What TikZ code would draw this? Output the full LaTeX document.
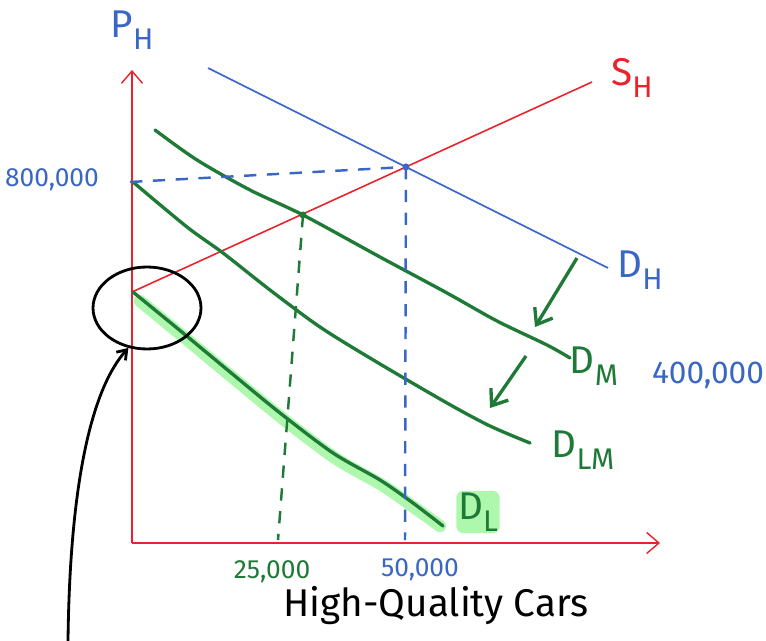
\documentclass[tikz,border=0pt]{standalone}
\usepackage{fontspec}
\setmainfont{Fira Sans}
\usepackage{tikz}
\usetikzlibrary{arrows.meta, positioning, calc, shapes.geometric}
\definecolor{axisred}{HTML}{E8232B}
\definecolor{inkblue}{HTML}{3A66C4}
\definecolor{inkgreen}{HTML}{1E7A36}
\definecolor{hlgreen}{HTML}{8CF58C}
\newcommand{\lowidx}[1]{\raisebox{-0.6ex}{\fontsize{17}{17}\selectfont #1}}

\begin{document}
\begin{tikzpicture}[
  x=0.02cm, y=0.02cm,
  axis/.style={-{Straight Barb[length=7pt,width=12pt]}, line width=0.8pt, axisred},
  schedule/.style={line width=0.9pt},
  dcurve/.style={line width=1.9pt, inkgreen, line cap=round, line join=round},
  guide/.style={line width=1.4pt, dash pattern=on 7pt off 6pt},
  shiftarr/.style={-{Straight Barb[length=8pt,width=12pt]}, line width=1.9pt, inkgreen},
  lbl/.style={font=\fontsize{22}{24}\selectfont, inner sep=1pt},
  num/.style={font=\fontsize{15}{17}\selectfont, inner sep=1pt}
]
\useasboundingbox (0,0) rectangle (766,-641);

\coordinate (o) at (132,-543);
\coordinate (ytop) at (132,-70);
\coordinate (xend) at (660,-543);
\draw[axis] (o) -- (ytop);
\draw[axis] (o) -- (xend);

\coordinate (s0) at (132,-292);
\coordinate (s1) at (592,-82);
\coordinate (dh0) at (208,-68);
\coordinate (dh1) at (608,-268);
\draw[schedule, axisred] (s0) -- (s1);
\draw[schedule, inkblue] (dh0) -- (dh1);

\draw[line width=7pt, hlgreen, opacity=0.7, line cap=round, line join=round]
  plot[smooth] coordinates {(140,-301) (185,-338) (232,-377) (282,-418) (335,-458) (382,-485) (415,-508) (440,-526)};
\draw[dcurve] plot[smooth] coordinates {(155,-130) (197,-160) (250,-190) (303,-215) (380,-257) (447,-293) (497,-321) (547,-345) (570,-358)};
\draw[dcurve] plot[smooth] coordinates {(133,-182) (187,-227) (223,-253) (270,-290) (320,-327) (375,-361) (447,-403) (490,-426) (530,-443)};
\draw[dcurve] plot[smooth] coordinates {(133,-292) (183,-333) (230,-372) (280,-413) (333,-453) (380,-480) (413,-503) (443,-526)};

\coordinate (eqH) at (intersection of s0--s1 and dh0--dh1);
\coordinate (eqM) at (303,-215);
\coordinate (p800) at (130,-182);
\coordinate (q50) at (405,-540);
\coordinate (q25) at (278,-540);
\draw[guide, inkblue] (p800) -- (eqH);
\draw[guide, inkblue] (eqH) -- (q50);
\draw[guide, inkgreen] (eqM) -- (q25);
\fill[inkblue] (eqH) circle (3.5);
\fill[inkgreen] (eqM) circle (3.5);

\coordinate (a1) at (577,-258);
\coordinate (b1) at (535,-327);
\coordinate (a2) at (526,-356);
\coordinate (b2) at (490,-408);
\draw[shiftarr] (a1) -- (b1);
\draw[shiftarr] (a2) -- (b2);

\node[lbl, inkblue] (pH) at (132,-30) {P\lowidx{H}};
\node[lbl, axisred] (sH) at (632,-78) {S\lowidx{H}};
\node[lbl, inkblue] (dH) at (640,-270) {D\lowidx{H}};
\node[lbl, inkgreen] (dM) at (594,-366) {D\lowidx{M}};
\node[lbl, inkgreen] (dLM) at (583,-450) {D\lowidx{LM}};
\node[lbl, inkgreen, fill=hlgreen, fill opacity=0.7, text opacity=1, rounded corners=4pt] (dL) at (478,-512) {D\lowidx{L}};

\node[num, inkblue] (v800) at (52,-180) {800,000};
\node[num, inkblue, font=\fontsize{18}{20}\selectfont] (v400) at (708,-375) {400,000};
\node[num, inkgreen] (v25) at (272,-572) {25,000};
\node[num, inkblue] (v50) at (420,-570) {50,000};
\node[lbl, black] (xlab) at (436,-606) {High-Quality Cars};

\node[draw, ellipse, line width=1.6pt, minimum width=2.16cm, minimum height=1.64cm, inner sep=0pt] (focus) at (147,-308) {};
\coordinate (tail) at (68,-641);
\draw[line width=1.6pt, -{Straight Barb[length=5pt,width=7pt]}] (tail) .. controls (70,-470) and (95,-385) .. (focus.245);
\end{tikzpicture}
\end{document}
